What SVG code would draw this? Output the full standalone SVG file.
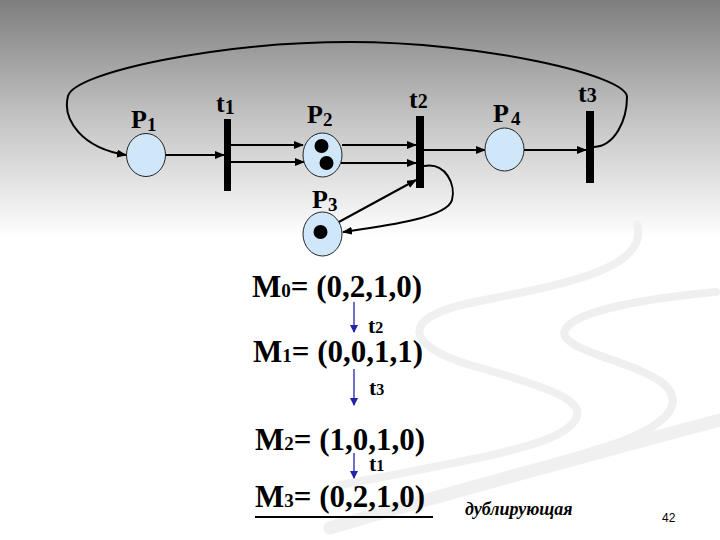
<svg xmlns="http://www.w3.org/2000/svg" width="720" height="540" viewBox="0 0 720 540">
<defs>
<linearGradient id="bg" x1="0" y1="0" x2="0" y2="540" gradientUnits="userSpaceOnUse">
<stop offset="0" stop-color="#7e7e7e"/>
<stop offset="0.22" stop-color="#c4c4c4"/>
<stop offset="0.44" stop-color="#ffffff"/>
<stop offset="1" stop-color="#ffffff"/>
</linearGradient>
<marker id="ah" markerWidth="10" markerHeight="8" refX="9" refY="4" orient="auto" markerUnits="userSpaceOnUse">
<path d="M0,0 L10,4 L0,8 Z" fill="#000"/>
</marker>
<marker id="bh" markerWidth="8" markerHeight="8" refX="7" refY="4" orient="auto" markerUnits="userSpaceOnUse">
<path d="M0,0 L8,4 L0,8 Z" fill="#2222aa"/>
</marker>
<style>
.pl{fill:#cfe7f8;stroke:#222;stroke-width:1}
.tr{fill:#000}
.tok{fill:#000}
.arc{fill:none;stroke:#000;stroke-width:2;marker-end:url(#ah)}
.ba{stroke:#2222aa;stroke-width:1.3;fill:none;marker-end:url(#bh)}
.sw{fill:none;stroke-linecap:round}
</style>
</defs>
<rect width="720" height="540" fill="url(#bg)"/>
<g id="decor">
<path class="sw" d="M637,224 C650,270 560,285 470,303 C400,318 405,345 470,365 C560,390 600,405 565,430 C540,448 470,460 340,485" stroke="#f0f0f0" stroke-width="8"/>
<path class="sw" d="M716,292 C650,298 575,310 565,330 C555,350 640,362 665,385 C685,405 665,425 620,442 C560,462 500,478 440,495" stroke="#efefef" stroke-width="8"/>
<path class="sw" d="M330,528 C450,492 600,452 720,420" stroke="#f0f0f0" stroke-width="13"/>
</g>
<g id="connectors">
<path class="arc" d="M594,147 C615,146 627,120 627,97 C627,75 480,42 350,42 C220,42 75,72 68,96 C62,120 82,148 126,155"/>
<line class="arc" x1="165" y1="155" x2="224" y2="155"/>
<line class="arc" x1="231" y1="145" x2="303" y2="145"/>
<line class="arc" x1="231" y1="162" x2="304" y2="162"/>
<line class="arc" x1="342" y1="145" x2="416" y2="145"/>
<line class="arc" x1="341" y1="163" x2="416" y2="163"/>
<line class="arc" x1="424" y1="150" x2="485" y2="150"/>
<line class="arc" x1="524" y1="150" x2="586" y2="150"/>
<line class="arc" x1="337" y1="223" x2="416" y2="180"/>
<path class="arc" d="M424,166 C446,162 456,185 452,200 C447,218 385,226 343,232"/>
</g>
<g font-family="Liberation Serif, DejaVu Serif, Times New Roman, serif" font-weight="bold" fill="#000">
<g id="P1"><ellipse class="pl" cx="146" cy="155" rx="19.5" ry="21.5"/>
<text x="131" y="128" font-size="26">P<tspan font-size="19" dy="3">1</tspan></text></g>
<g id="t1"><rect class="tr" x="224" y="119" width="7" height="72"/>
<text x="216" y="112" font-size="26">t<tspan font-size="20" dy="2">1</tspan></text></g>
<g id="P2"><ellipse class="pl" cx="322.5" cy="155" rx="19.5" ry="22"/>
<circle class="tok" cx="321.5" cy="146" r="7"/><circle class="tok" cx="326.5" cy="163" r="7"/>
<text x="307" y="123" font-size="26">P<tspan font-size="19" dy="3">2</tspan></text></g>
<g id="t2"><rect class="tr" x="416" y="116" width="8" height="72"/>
<text x="409" y="108" font-size="26">t<tspan font-size="20">2</tspan></text></g>
<g id="P3"><ellipse class="pl" cx="322.5" cy="234" rx="19.5" ry="22"/>
<circle class="tok" cx="320.5" cy="232" r="7"/>
<text x="312" y="208" font-size="26">P<tspan font-size="19" dy="3">3</tspan></text></g>
<g id="P4"><ellipse class="pl" cx="504.5" cy="149.5" rx="19.5" ry="21.5"/>
<text x="493" y="122" font-size="26">P<tspan font-size="19" dy="3" dx="2">4</tspan></text></g>
<g id="t3"><rect class="tr" x="586" y="111" width="8" height="72"/>
<text x="578" y="102" font-size="26">t<tspan font-size="20">3</tspan></text></g>
<g id="markings">
<text x="252" y="297" font-size="31">M<tspan font-size="19">0</tspan>= (0,2,1,0)</text>
<line class="ba" x1="354" y1="302" x2="354" y2="332"/>
<text x="368" y="333" font-size="22">t<tspan font-size="16">2</tspan></text>
<text x="253" y="362" font-size="31">M<tspan font-size="19">1</tspan>= (0,0,1,1)</text>
<line class="ba" x1="354" y1="369" x2="354" y2="405"/>
<text x="369" y="395" font-size="22">t<tspan font-size="16">3</tspan></text>
<text x="255" y="450" font-size="31">M<tspan font-size="19">2</tspan>= (1,0,1,0)</text>
<line class="ba" x1="354" y1="453" x2="354" y2="478"/>
<text x="369" y="471" font-size="22">t<tspan font-size="16">1</tspan></text>
<text x="255" y="507" font-size="31">M<tspan font-size="19">3</tspan>= (0,2,1,0)</text>
<line x1="255" y1="517" x2="433" y2="517" stroke="#000" stroke-width="2"/>
<text x="465" y="515" font-size="18" font-style="italic">дублирующая</text>
</g>
</g>
<text x="662" y="522" font-family="Liberation Sans, Arial, sans-serif" font-size="12" fill="#000">42</text>
</svg>
